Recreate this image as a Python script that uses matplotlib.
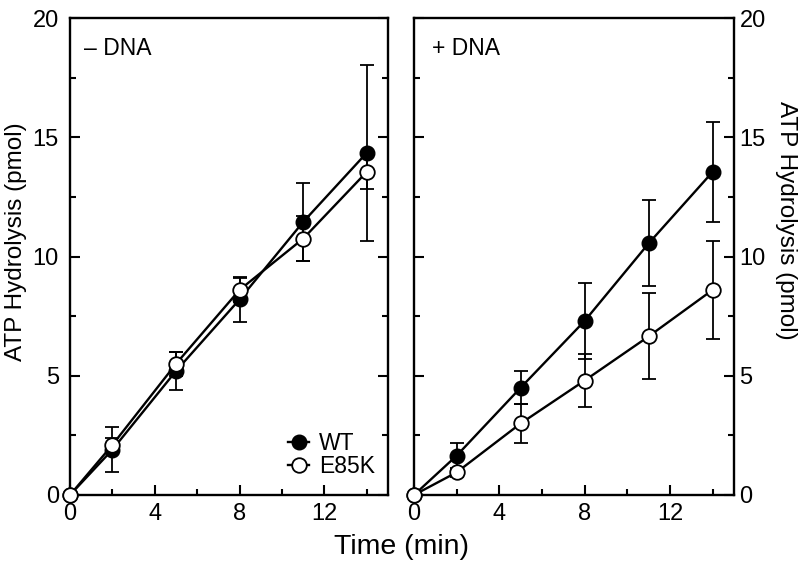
import matplotlib
matplotlib.use("Agg")
import matplotlib.pyplot as plt
from matplotlib.ticker import MultipleLocator
from matplotlib.lines import Line2D

plt.rcParams['font.family'] = ['Liberation Sans', 'DejaVu Sans']

times = [0, 2, 5, 8, 11, 14]

# - DNA
wt_minus = [0, 1.9, 5.2, 8.2, 11.45, 14.35]
wt_minus_err = [0, 0.95, 0.8, 0.95, 1.65, 3.7]
mut_minus = [0, 2.1, 5.5, 8.6, 10.75, 13.55]
mut_minus_err = [0, 0.3, 0.5, 0.5, 0.95, 0.7]

# + DNA
wt_plus = [0, 1.65, 4.5, 7.3, 10.55, 13.55]
wt_plus_err = [0, 0.55, 0.68, 1.6, 1.8, 2.1]
mut_plus = [0, 0.95, 3.0, 4.8, 6.65, 8.6]
mut_plus_err = [0, 0.2, 0.8, 1.1, 1.8, 2.05]

fig = plt.figure(figsize=(8, 5.7), dpi=100)
ax1 = fig.add_axes([0.0875, 0.1316, 0.3975, 0.8368])
ax2 = fig.add_axes([0.5175, 0.1316, 0.4, 0.8368])


def draw(ax, wt, wt_err, mut, mut_err):
    ax.errorbar(times, wt, yerr=wt_err, color='black', lw=1.7, marker='o',
                ms=10.5, mfc='black', mec='black', capsize=5, elinewidth=1.3,
                capthick=1.3, clip_on=False, zorder=3)
    ax.errorbar(times, mut, yerr=mut_err, color='black', lw=1.7, marker='o',
                ms=10.5, mfc='white', mec='black', mew=1.3, capsize=5,
                elinewidth=1.3, capthick=1.3, clip_on=False, zorder=4)
    ax.set_xlim(0, 15)
    ax.set_ylim(0, 20)
    ax.xaxis.set_major_locator(MultipleLocator(4))
    ax.xaxis.set_minor_locator(MultipleLocator(2))
    ax.yaxis.set_major_locator(MultipleLocator(5))
    ax.yaxis.set_minor_locator(MultipleLocator(2.5))
    ax.tick_params(which='both', direction='in', left=True, right=True,
                   top=False, bottom=True, width=1.5, labelsize=17, pad=6)
    ax.tick_params(which='major', length=7)
    ax.tick_params(which='minor', length=4)
    ax.tick_params(axis='y', pad=8)
    for s in ax.spines.values():
        s.set_linewidth(1.7)


draw(ax1, wt_minus, wt_minus_err, mut_minus, mut_minus_err)
draw(ax2, wt_plus, wt_plus_err, mut_plus, mut_plus_err)

ax2.tick_params(axis='y', labelleft=False, labelright=True, pad=4)

fig.text(0.02, 0.5754, 'ATP Hydrolysis (pmol)', fontsize=17.5, rotation=90,
         ha='center', va='center')
fig.text(0.982, 0.614, 'ATP Hydrolysis (pmol)', fontsize=17.5, rotation=270,
         ha='center', va='center')
fig.text(0.5025, 0.04, 'Time (min)', fontsize=20.5, ha='center', va='center')

ax1.text(0.045, 0.96, '\u2013 DNA', transform=ax1.transAxes, fontsize=16.5,
         va='top', ha='left')
ax2.text(0.055, 0.96, '+ DNA', transform=ax2.transAxes, fontsize=16.5,
         va='top', ha='left')

handles = [
    Line2D([], [], color='black', lw=1.7, marker='o', ms=10.5, mfc='black', mec='black'),
    Line2D([], [], color='black', lw=1.7, marker='o', ms=10.5, mfc='white', mec='black', mew=1.3),
]
ax1.legend(handles, ['WT', 'E85K'], loc='lower right', frameon=False,
           fontsize=16.5, handlelength=0.9, handletextpad=0.45, labelspacing=0.0,
           borderpad=0, borderaxespad=0, bbox_to_anchor=(0.96, 0.035))

fig.savefig('out.png', dpi=100)
